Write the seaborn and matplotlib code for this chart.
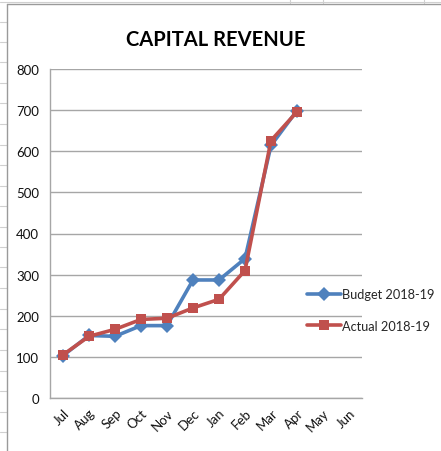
import numpy as np
import pandas as pd
import matplotlib
matplotlib.use("Agg")
import matplotlib.pyplot as plt
from matplotlib.lines import Line2D
from matplotlib.ticker import FixedLocator
import seaborn as sns

months = ["Jul", "Aug", "Sep", "Oct", "Nov", "Dec", "Jan", "Feb", "Mar", "Apr", "May", "Jun"]
budget = [103, 152, 150, 176, 176, 287, 287, 339, 614, 699]
actual = [105, 150, 167, 191, 194, 219, 240, 310, 626, 696]
series_names = ["Budget 2018-19", "Actual 2018-19"]
yticks = [0, 100, 200, 300, 400, 500, 600, 700, 800]

rows = []
for name, vals in zip(series_names, [budget, actual]):
    for i, v in enumerate(vals):
        rows.append({"pos": i, "value": v, "series": name})
df = pd.DataFrame(rows)

sns.set_theme(style="white")
plt.rcParams["font.family"] = ["Lato", "DejaVu Sans"]

W, H = 441, 452
fig = plt.figure(figsize=(W / 100, H / 100), dpi=100)
fig.patch.set_facecolor("white")

# spreadsheet background hints
for y in [23, 43, 63, 84, 104, 125, 146, 166, 187, 207, 228, 248, 268, 289, 310, 330, 351, 372, 392, 413, 433]:
    fig.add_artist(Line2D([0, 7 / W], [1 - y / H, 1 - y / H], color="#d0d0d0", lw=0.8))
fig.add_artist(Line2D([0, 1], [1 - 3 / H, 1 - 3 / H], color="#d0d0d0", lw=0.8))
for x in [290, 323, 424]:
    fig.add_artist(Line2D([x / W, x / W], [1, 1 - 4 / H], color="#d0d0d0", lw=0.8))
fig.add_artist(Line2D([7 / W, 7 / W], [0, 1 - 5 / H], color="#9a9a9a", lw=1))
fig.add_artist(Line2D([7 / W, 1], [1 - 5 / H, 1 - 5 / H], color="#9a9a9a", lw=1))

ax = fig.add_axes([50 / W, 1 - 399 / H, 312 / W, 329 / H])
palette = {"Budget 2018-19": "#4F81BD", "Actual 2018-19": "#C0504D"}
sns.lineplot(data=df, x="pos", y="value", hue="series", style="series",
             markers={"Budget 2018-19": "D", "Actual 2018-19": "s"},
             dashes=False, palette=palette, lw=2.6, markersize=7.5,
             markeredgewidth=0, sort=False, ax=ax, legend=False)

ax.set_xlim(-0.5, len(months) - 0.5)
ax.set_ylim(0, 800)
ax.set_yticks(yticks)
ax.set_xticks(np.arange(len(months)))
ax.set_xticklabels(months, rotation=45, ha="right", rotation_mode="anchor", fontsize=9.5)
ax.xaxis.set_minor_locator(FixedLocator(np.arange(-0.5, len(months), 1.0)))
ax.tick_params(axis="x", which="major", length=0, pad=6)
ax.tick_params(axis="x", which="minor", length=5, color="#a0a0a0", width=1, direction="out")
ax.tick_params(axis="y", length=5, color="#a0a0a0", width=1, direction="out", labelsize=9.5, pad=3)
ax.grid(axis="y", color="#a6a6a6", lw=1)
ax.set_axisbelow(True)
for s in ["top", "right"]:
    ax.spines[s].set_visible(False)
for s in ["left", "bottom"]:
    ax.spines[s].set_color("#a6a6a6")
    ax.spines[s].set_linewidth(1)
ax.set_xlabel("")
ax.set_ylabel("")
for lab in ax.get_xticklabels() + ax.get_yticklabels():
    lab.set_color("#111111")

fig.text(216 / W, 1 - 40 / H, "CAPITAL REVENUE", ha="center", va="center",
         fontsize=14.5, fontweight="bold", color="black")

handles = [
    Line2D([], [], color="#4F81BD", marker="D", lw=2.6, markersize=7.5, markeredgewidth=0),
    Line2D([], [], color="#C0504D", marker="s", lw=2.6, markersize=7.5, markeredgewidth=0),
]
fig.legend(handles, series_names, loc="center left",
           bbox_to_anchor=(301 / W, 1 - 311 / H), frameon=False, fontsize=9.2,
           handlelength=2.6, handletextpad=0.1, labelspacing=1.5, borderpad=0)

fig.savefig("out.png", dpi=100, facecolor="white")
